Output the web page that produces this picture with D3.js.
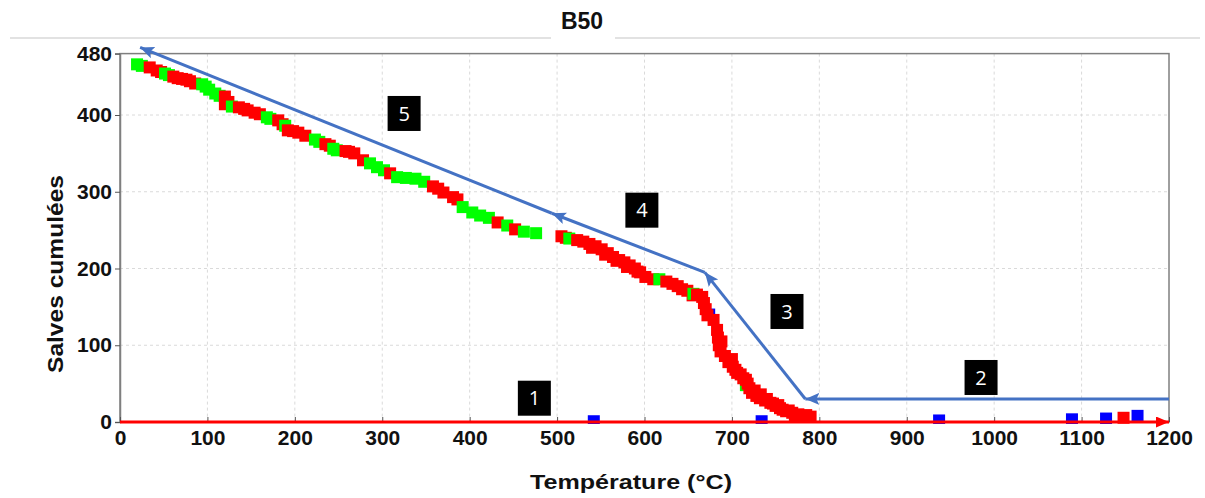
<!DOCTYPE html>
<html>
<head>
<meta charset="utf-8">
<script src="https://cdn.jsdelivr.net/npm/d3@7"></script>
<style>
  html, body { margin: 0; padding: 0; background: #fff; }
  svg { display: block; }
</style>
</head>
<body>
<svg id="chart" width="1205" height="498"></svg>
<script>
// ---------- data ----------
const chartTitle = "B50";
const xLabel = "Température (°C)";
const yLabel = "Salves cumulées";
const xTicks = [0, 100, 200, 300, 400, 500, 600, 700, 800, 900, 1000, 1100, 1200];
const yTicks = [0, 100, 200, 300, 400, 480];

const greenTemp  = [19.5, 25, 51.5, 56, 94, 98, 102, 109, 114, 128, 168, 172, 189, 223, 228, 244, 248, 286, 294, 302, 317, 327, 338, 348, 392, 403, 412, 422, 443, 462, 476, 514, 617, 656, 716];
const greenCount = [466, 464, 454, 452, 440, 437, 433, 428, 425, 411, 397, 395, 386, 368, 365, 356, 354, 337, 332, 328, 319, 318, 317, 313, 280, 273, 269, 266, 256, 248, 246, 239, 186, 167, 48];

const redTemp  = [34, 42, 47, 61, 66, 71, 76, 80, 86, 120, 120, 124, 136, 142, 146, 154, 160, 181, 186, 192, 198, 204, 212, 235, 240, 258, 262, 268, 278, 309, 358, 364, 370, 381, 386, 432, 452,
                  505, 510, 523, 530, 537, 540, 544, 551, 555, 558, 564, 568, 571, 577, 580, 583, 589, 592, 595, 601, 610, 625, 632, 638, 643, 649, 655, 660, 666, 668, 670, 672,
                  679, 683, 684, 685, 687, 688, 692, 696, 700, 701, 704, 706, 710, 713, 716, 718, 720, 723, 726, 728, 732, 733, 738, 740, 744, 747, 750, 753, 755, 758, 762, 765, 769, 772, 776, 779, 785, 790, 1148];
const redCount = [462, 458, 456, 450, 448, 447, 446, 444, 441, 424, 414, 417, 410, 408, 406, 403, 401, 393, 388, 380, 379, 377, 373, 362, 360, 353, 352, 350, 341, 324, 307, 304, 299, 293, 290, 260, 251,
                  242, 240, 237, 235, 232, 227, 229, 225, 218, 220, 215, 210, 211, 208, 202, 204, 200, 196, 195, 189, 186, 183, 180, 177, 173, 171, 165, 166, 163, 155, 147, 139,
                  133, 120, 110, 100, 92, 105, 86, 78, 82, 72, 68, 64, 62, 57, 55, 50, 44, 38, 41, 34, 31, 36, 28, 30, 25, 24, 21, 22, 18, 16, 14, 15, 12, 9, 10, 8, 9, 7, 5.5];

const blueTemp  = [542, 674, 734, 937, 1089, 1128, 1164];
const blueCount = [1, 140, 1, 2, 3.5, 4.5, 8];

// annotation arrows (data units)
const arrowFromTemp  = [1200, 784, 669, 494];
const arrowFromCount = [30, 30, 195, 272];
const arrowToTemp    = [784, 669, 494, 23];
const arrowToCount   = [30, 195, 272, 488];

// numbered boxes
const boxText  = ["1", "2", "3", "4", "5"];
const boxTemp  = [474, 985, 763, 597, 325];
const boxCount = [31, 58, 144, 276, 402];

// ---------- drawing ----------
(function () {
const svg = d3.select("#chart");
const pL = 120, pR = 1169, pT = 53.6, pB = 422;
const x = d3.scaleLinear().domain([0, 1200]).range([pL, pR]);
const y = d3.scaleLinear().domain([0, 480]).range([pB, pT]);
const FONT = "'Liberation Sans', Arial, sans-serif";

const defs = svg.append("defs");
defs.append("marker").attr("id", "blueHead")
  .attr("markerUnits", "userSpaceOnUse").attr("markerWidth", 15).attr("markerHeight", 13)
  .attr("refX", 14).attr("refY", 6).attr("orient", "auto")
  .append("path").attr("d", "M0,0 L14,6 L0,12 L3,6 Z").attr("fill", "#4472C4");
defs.append("marker").attr("id", "redHead")
  .attr("markerUnits", "userSpaceOnUse").attr("markerWidth", 14).attr("markerHeight", 12)
  .attr("refX", 13).attr("refY", 5.5).attr("orient", "auto")
  .append("path").attr("d", "M0,0 L13,5.5 L0,11 Z").attr("fill", "#ff0000");
defs.append("clipPath").attr("id", "plotClip")
  .append("rect").attr("x", pL).attr("y", pT - 20).attr("width", pR - pL + 2).attr("height", pB - pT + 22);

// title + decorative rule
svg.append("line").attr("x1", 10).attr("x2", 551).attr("y1", 38).attr("y2", 38)
  .attr("stroke", "#d9d9d9").attr("stroke-width", 1.5);
svg.append("line").attr("x1", 615).attr("x2", 1200).attr("y1", 38).attr("y2", 38)
  .attr("stroke", "#d9d9d9").attr("stroke-width", 1.5);
svg.append("text").attr("x", 582).attr("y", 29).attr("text-anchor", "middle")
  .attr("font-family", FONT).attr("font-weight", "bold").attr("font-size", 23)
  .attr("fill", "#111").text(chartTitle);

// grid
const grid = svg.append("g").attr("stroke", "#dadada").attr("stroke-width", 1).attr("stroke-dasharray", "3,3");
grid.selectAll("line.v").data(xTicks.filter(d => d > 0 && d < 1200)).join("line").attr("class", "v")
  .attr("x1", d => x(d)).attr("x2", d => x(d)).attr("y1", pT).attr("y2", pB);
grid.selectAll("line.h").data(yTicks.filter(d => d > 0 && d < 480)).join("line").attr("class", "h")
  .attr("x1", pL).attr("x2", pR).attr("y1", d => y(d)).attr("y2", d => y(d));

// frame
svg.append("rect").attr("x", pL).attr("y", pT).attr("width", pR - pL).attr("height", pB - pT)
  .attr("fill", "none").attr("stroke", "#7f7f7f").attr("stroke-width", 1.5);

// y axis
const yAxis = svg.append("g").attr("transform", `translate(${pL},0)`)
  .call(d3.axisLeft(y).tickValues(yTicks).tickSize(5).tickPadding(3).tickFormat(d3.format("d")));
yAxis.select(".domain").attr("stroke", "#7f7f7f").attr("stroke-width", 1.5);
yAxis.selectAll(".tick line").attr("stroke", "#555");
yAxis.selectAll("text").attr("font-family", FONT).attr("font-weight", "bold").attr("font-size", 21).attr("fill", "#111");

// x axis
const xAxis = svg.append("g").attr("transform", `translate(0,${pB})`)
  .call(d3.axisBottom(x).tickValues(xTicks).tickSize(-5).tickPadding(9).tickFormat(d3.format("d")));
xAxis.select(".domain").remove();
xAxis.selectAll(".tick line").attr("stroke", "#555");
xAxis.selectAll("text").attr("font-family", FONT).attr("font-weight", "bold").attr("font-size", 21).attr("fill", "#111")
  .attr("y", 8).attr("dy", "0.71em");

// axis titles
svg.append("text").attr("x", 631).attr("y", 489).attr("text-anchor", "middle")
  .attr("font-family", FONT).attr("font-weight", "bold").attr("font-size", 21).attr("fill", "#111")
  .attr("textLength", 202).attr("lengthAdjust", "spacingAndGlyphs").text(xLabel);
svg.append("text").attr("transform", "translate(63,274) rotate(-90)").attr("text-anchor", "middle")
  .attr("font-family", FONT).attr("font-weight", "bold").attr("font-size", 22).attr("fill", "#111")
  .attr("textLength", 198).attr("lengthAdjust", "spacingAndGlyphs").text(yLabel);

// points
const S = 12;
const plot = svg.append("g").attr("clip-path", "url(#plotClip)");
const bluePts = blueTemp.map((t, i) => ({ t, c: blueCount[i], col: "#0000ff" }));
const mixPts = greenTemp.map((t, i) => ({ t, c: greenCount[i], col: "#00ff00" }))
  .concat(redTemp.map((t, i) => ({ t, c: redCount[i], col: "#ff0000" })))
  .sort((a, b) => a.t - b.t);
plot.selectAll("rect.b").data(bluePts).join("rect").attr("class", "b")
  .attr("x", d => x(d.t) - S / 2).attr("y", d => y(d.c) - S / 2).attr("width", S).attr("height", S).attr("fill", d => d.col);
plot.selectAll("rect.m").data(mixPts).join("rect").attr("class", "m")
  .attr("x", d => x(d.t) - S / 2).attr("y", d => y(d.c) - S / 2).attr("width", S).attr("height", S).attr("fill", d => d.col);

// red baseline with arrow
svg.append("line").attr("x1", pL).attr("x2", pR).attr("y1", pB).attr("y2", pB)
  .attr("stroke", "#ff0000").attr("stroke-width", 3).attr("marker-end", "url(#redHead)");

// blue annotation arrows
svg.append("g").selectAll("line").data(arrowFromTemp).join("line")
  .attr("x1", (d, i) => x(d)).attr("y1", (d, i) => y(arrowFromCount[i]))
  .attr("x2", (d, i) => x(arrowToTemp[i])).attr("y2", (d, i) => y(arrowToCount[i]))
  .attr("stroke", "#4472C4").attr("stroke-width", 3).attr("marker-end", "url(#blueHead)");

// numbered boxes
const boxes = svg.append("g").selectAll("g").data(boxText).join("g")
  .attr("transform", (d, i) => `translate(${x(boxTemp[i])},${y(boxCount[i])})`);
boxes.append("rect").attr("x", -16.5).attr("y", -17.5).attr("width", 33).attr("height", 35).attr("fill", "#000");
boxes.append("text").attr("text-anchor", "middle").attr("dy", "0.36em")
  .attr("font-family", "'Open Sans', 'Liberation Sans', sans-serif").attr("font-size", 20).attr("fill", "#fff").text(d => d);
})();
</script>
</body>
</html>
